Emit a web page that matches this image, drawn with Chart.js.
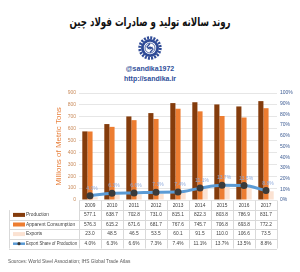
<!DOCTYPE html>
<html>
<head>
<meta charset="utf-8">
<script src="https://cdn.jsdelivr.net/npm/chart.js@4"></script>
<style>
  body { margin: 0; background: #fff; }
  #wrap { position: relative; width: 300px; height: 272px; overflow: hidden; }
  #title { position: absolute; left: 0; top: 15px; width: 300px; text-align: center;
           font: bold 12px 'DejaVu Sans Condensed', 'DejaVu Sans', sans-serif; direction: rtl; color: #111;
           transform: scaleX(0.8); }
  #logo { position: absolute; left: 138px; top: 36px; }
  .brand { position: absolute; left: 0; width: 300px; text-align: center;
           font: bold 7px 'Liberation Sans', Arial, sans-serif; color: #2F4F9A; }
  canvas { position: absolute; left: 0; top: 0; }
</style>
</head>
<body>
<div id="wrap">
  <div id="title">روند سالانه تولید و صادرات فولاد چین</div>
  <svg id="logo" width="24" height="24" viewBox="0 0 24 24">
    <circle cx="12" cy="12" r="10.2" fill="none" stroke="#2E4A96" stroke-width="3" stroke-dasharray="2 1.2"/>
    <circle cx="12" cy="12" r="9" fill="#2E4A96"/>
    <circle cx="12" cy="12" r="6.2" fill="#fff"/>
    <circle cx="12" cy="12" r="5" fill="none" stroke="#2E4A96" stroke-width="0.8"/>
    <path d="M12 7.5 L9 11 L12 13 L14.5 11 M12 16.5 L15 13 L12 11 L9.5 13" fill="none" stroke="#2E4A96" stroke-width="1.2"/>
  </svg>
  <div class="brand" style="top:65px">@sandika1972</div>
  <div class="brand" style="top:75px">http://sandika.ir</div>
  <canvas id="c" width="300" height="272"></canvas>
</div>
<script>
const years = ['2009', '2010', '2011', '2012', '2013', '2014', '2015', '2016', '2017'];
const production = [577.1, 638.7, 702.8, 731.0, 815.1, 822.3, 803.8, 786.9, 831.7];
const consumption = [576.3, 615.2, 671.6, 681.7, 767.6, 745.7, 706.8, 693.8, 772.2];
const exportsMt = [23.0, 48.5, 46.5, 53.5, 60.1, 91.5, 110.0, 106.6, 73.5];
const exportShare = [4.0, 6.3, 6.6, 7.3, 7.4, 11.1, 13.7, 13.5, 8.8];

const seriesNames = ['Production', 'Apparent Consumption', 'Exports', 'Export Share of Production'];
const sourceText = 'Sources: World Steel Association; IHS Global Trade Atlas';

const cBrown = '#843C0C', cOrange = '#ED7D31', cPeach = '#FBE2D2', cBlue = '#5B9BD5', cMark = '#3A3A3A';
const tableFont = "4.8px 'Liberation Sans Narrow', 'Liberation Sans', sans-serif";

// data labels over the line points
const lineLabels = {
  id: 'lineLabels',
  afterDatasetsDraw(chart) {
    const ctx = chart.ctx;
    const meta = chart.getDatasetMeta(3);
    ctx.save();
    ctx.font = "5px 'Liberation Sans', sans-serif";
    ctx.fillStyle = '#8EA9DB';
    ctx.textAlign = 'center';
    meta.data.forEach((pt, i) => {
      ctx.fillText(exportShare[i].toFixed(1) + '%', pt.x + 2, pt.y - 6);
    });
    ctx.restore();
  }
};

// data table under the plot, columns follow the x scale
const dataTable = {
  id: 'dataTable',
  afterDraw(chart) {
    const ctx = chart.ctx;
    const x = chart.scales.x;
    const area = chart.chartArea;
    const half = (x.getPixelForValue(1) - x.getPixelForValue(0)) / 2;
    const top = area.bottom + 0.5, rowH = 9.6;
    const left = 9;
    const rows = [production.map(v => v.toFixed(1)), consumption.map(v => v.toFixed(1)),
                  exportsMt.map(v => v.toFixed(1)), exportShare.map(v => v.toFixed(1) + '%')];
    ctx.save();
    ctx.strokeStyle = '#D9D9D9';
    ctx.lineWidth = 1;
    for (let r = 1; r <= 5; r++) {
      ctx.beginPath();
      ctx.moveTo(r === 1 ? area.left : left, Math.round(top + r * rowH) + 0.5);
      ctx.lineTo(area.right, Math.round(top + r * rowH) + 0.5);
      ctx.stroke();
    }
    ctx.beginPath();
    ctx.moveTo(left + 0.5, top + rowH); ctx.lineTo(left + 0.5, top + 5 * rowH);
    ctx.stroke();
    for (let i = 0; i <= years.length; i++) {
      const px = Math.round(x.getPixelForValue(i) - half) + 0.5;
      ctx.beginPath();
      ctx.moveTo(px, top); ctx.lineTo(px, top + 5 * rowH);
      ctx.stroke();
    }
    ctx.font = tableFont;
    ctx.fillStyle = '#404040';
    ctx.textAlign = 'center';
    ctx.textBaseline = 'middle';
    years.forEach((y, i) => ctx.fillText(y, x.getPixelForValue(i), top + rowH / 2));
    rows.forEach((row, r) => {
      row.forEach((v, i) => ctx.fillText(v, x.getPixelForValue(i), top + (r + 1.5) * rowH));
    });
    // legend keys + names
    ctx.textAlign = 'left';
    seriesNames.forEach((name, r) => {
      const cy = top + (r + 1.5) * rowH;
      if (r < 3) {
        ctx.fillStyle = [cBrown, cOrange, cPeach][r];
        ctx.fillRect(13, cy - 2, 12, 4);
      } else {
        ctx.strokeStyle = cBlue; ctx.lineWidth = 2.5;
        ctx.beginPath(); ctx.moveTo(13, cy); ctx.lineTo(25, cy); ctx.stroke();
        ctx.fillStyle = cMark;
        ctx.beginPath(); ctx.arc(19, cy, 1.6, 0, Math.PI * 2); ctx.fill();
      }
      ctx.fillStyle = '#404040';
      ctx.fillText(name, 26, cy, area.left - 28);
    });
    ctx.font = "4.8px 'Liberation Sans Narrow', 'Liberation Sans', sans-serif";
    ctx.fillStyle = '#595959';
    ctx.fillText(sourceText, 8, 262);
    ctx.restore();
  }
};

new Chart(document.getElementById('c'), {
  type: 'bar',
  data: {
    labels: years,
    datasets: [
      { label: seriesNames[0], data: production, backgroundColor: cBrown, yAxisID: 'y', order: 2 },
      { label: seriesNames[1], data: consumption, backgroundColor: cOrange, yAxisID: 'y', order: 2 },
      { label: seriesNames[2], data: exportsMt, backgroundColor: cPeach, yAxisID: 'y', order: 2 },
      { type: 'line', label: seriesNames[3], data: exportShare, yAxisID: 'y1', order: 1,
        borderColor: cBlue, borderWidth: 3, tension: 0.4, cubicInterpolationMode: 'monotone',
        pointRadius: 2, pointBackgroundColor: cMark, pointBorderColor: cMark }
    ]
  },
  options: {
    responsive: false,
    animation: false,
    layout: { padding: { top: 93, bottom: 72, left: 54, right: 3 } },
    plugins: { legend: { display: false }, tooltip: { enabled: false } },
    datasets: { bar: { categoryPercentage: 0.7, barPercentage: 1 } },
    scales: {
      x: { display: false },
      y: {
        min: 0, max: 900,
        ticks: { stepSize: 100, color: '#C98A5A', font: { size: 5 }, padding: 3 },
        grid: { color: '#E6E6E6', drawTicks: false },
        border: { display: false },
        title: { display: true, text: 'Millions of Metric Tons', color: '#E8823F',
                 font: { size: 8, family: "'Liberation Sans', Arial, sans-serif" }, padding: 0 },
        afterFit: s => { s.width = 25; }
      },
      y1: {
        position: 'right', min: 0, max: 100,
        ticks: { stepSize: 10, color: '#3B5A92', font: { size: 5 }, padding: 3,
                 callback: v => v + '%' },
        grid: { display: false, drawTicks: false },
        border: { display: false },
        afterFit: s => { s.width = 20; }
      }
    }
  },
  plugins: [lineLabels, dataTable]
});
</script>
</body>
</html>
